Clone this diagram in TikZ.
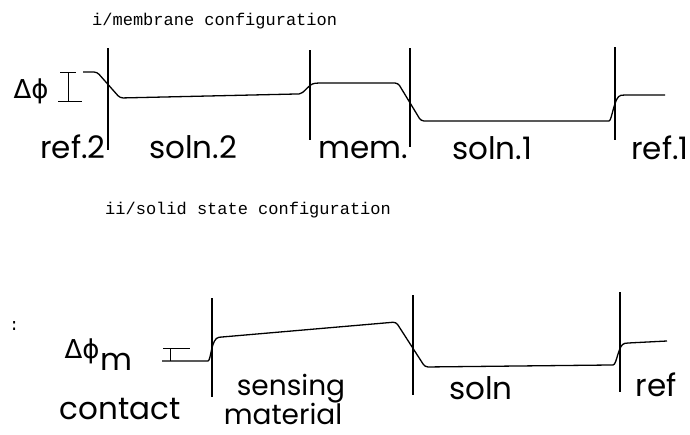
\documentclass[tikz,border=0pt]{standalone}
\usepackage{fontspec}
\setmainfont{Poppins}
\newfontfamily\plotmono{Liberation Mono}
\newfontfamily\plotgreek{DejaVu Sans}
\begin{document}
\begin{tikzpicture}[x=1pt,y=-1pt,
  titletext/.style={font=\plotmono\fontsize{17}{20}\selectfont, inner sep=0pt, anchor=base west},
  lab/.style={font=\fontsize{31}{36}\selectfont, inner sep=0pt, anchor=base},
  smalllab/.style={font=\fontsize{28}{32}\selectfont, inner sep=0pt, anchor=base},
  greeklab/.style={font=\plotgreek\fontsize{26}{30}\selectfont, inner sep=0pt, anchor=base},
  wall/.style={line width=2.6pt},
  pot/.style={line width=1.3pt, line join=round, rounded corners=3pt},
  bar/.style={line width=1pt}]
\useasboundingbox (0,0) rectangle (690,434);

% ---------- titles ----------
\node[titletext] (t1) at (92,25) {i/membrane configuration};
\node[titletext] (t2) at (105,214) {ii/solid state configuration};
\node[titletext] (colon) at (9,330) {:};

% ---------- top: vertical interfaces ----------
\coordinate (w1a) at (108,48);  \coordinate (w1b) at (108,150);
\coordinate (w2a) at (310,50);  \coordinate (w2b) at (310,140);
\coordinate (w3a) at (410,48);  \coordinate (w3b) at (410,147);
\coordinate (w4a) at (615,47);  \coordinate (w4b) at (615,140);
\draw[wall] (w1a) -- (w1b);
\draw[wall] (w2a) -- (w2b);
\draw[wall] (w3a) -- (w3b);
\draw[wall] (w4a) -- (w4b);

% ---------- top: potential profile ----------
\draw[pot] (83,72) -- (97,72) -- (120,98) -- (296,94)
  .. controls (304,94) and (308,84) .. (318,83) -- (398,83) -- (421,121) -- (606,121)
  .. controls (612,121) and (614,96) .. (624,95) -- (665,95);

% ---------- top: delta phi bar ----------
\coordinate (ba) at (68,72); \coordinate (bb) at (68,101);
\draw[bar] (60,72) -- (76,72);
\draw[bar] (58,101) -- (82,101);
\draw[bar] (ba) -- (bb);
\node[greeklab] (dphi) at (31,98) {Δϕ};

% ---------- top: labels ----------
\node[lab] (ref2) at (73,158) {ref.2};
\node[lab] (soln2) at (193,158) {soln.2};
\node[lab] (mem) at (363,158) {mem.};
\node[lab] (soln1) at (492,159) {soln.1};
\node[lab] (ref1) at (660,159) {ref.1};

% ---------- bottom: vertical interfaces ----------
\coordinate (v1a) at (212,298); \coordinate (v1b) at (212,397);
\coordinate (v2a) at (413,295); \coordinate (v2b) at (413,395);
\coordinate (v3a) at (620,292); \coordinate (v3b) at (620,392);
\draw[wall] (v1a) -- (v1b);
\draw[wall] (v2a) -- (v2b);
\draw[wall] (v3a) -- (v3b);

% ---------- bottom: potential profile ----------
\draw[pot] (162,361) -- (205,361)
  .. controls (211,361) and (211,338) .. (222,337) -- (396,322) -- (425,367) -- (610,365)
  .. controls (617,365) and (618,344) .. (628,343) -- (667,341);

% ---------- bottom: delta phi_m bar ----------
\coordinate (ca) at (170,348); \coordinate (cb) at (170,361);
\draw[bar] (163,348) -- (190,348);
\draw[bar] (ca) -- (cb);
\node[greeklab] (dphim) at (82,358) {Δϕ};
\node[lab, anchor=base west] (msub) at (100,370) {m};

% ---------- bottom: labels ----------
\node[lab] (contact) at (120,419) {contact};
\node[smalllab] (sensing) at (291,395) {sensing};
\node[smalllab] (material) at (283,424) {material};
\node[lab] (soln) at (481,399) {soln};
\node[lab] (ref) at (656,396) {ref};
\end{tikzpicture}
\end{document}
